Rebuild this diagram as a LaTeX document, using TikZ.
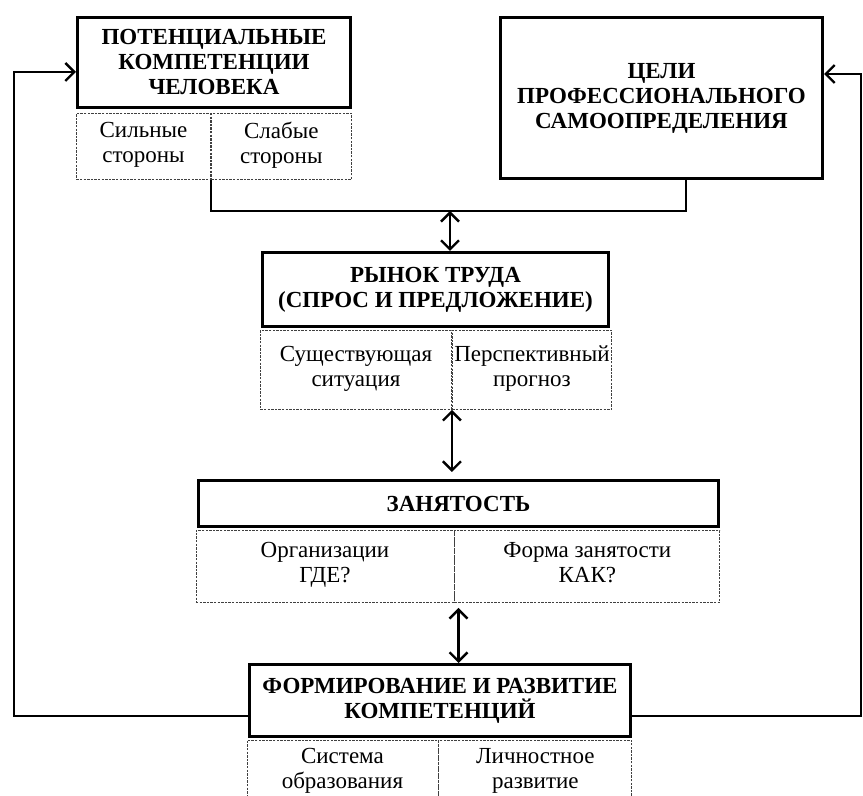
\documentclass[tikz,border=0pt]{standalone}
\usepackage{fontspec}
\setmainfont{Liberation Serif}
\usetikzlibrary{positioning,arrows.meta}
\tikzset{
main_box/.style={rectangle, draw, line width=1.5pt, align=center, inner sep=1pt, font=\bfseries\fontsize{11.5}{12.5}\selectfont},
sub_cell/.style={rectangle, draw=black!75, dash pattern=on 1.2pt off 0.6pt, line width=0.45pt, align=center, inner sep=1pt, font=\fontsize{11.5}{12.5}\selectfont, execute at begin node=\strut, execute at end node=\strut},
link/.style={line width=1.2pt},
one_way/.style={-{Straight Barb[length=4.5pt,width=9pt]}},
two_way/.style={{Straight Barb[length=4.5pt,width=9pt]}-{Straight Barb[length=4.5pt,width=9pt]}}
}

\begin{document}
\begin{tikzpicture}[x=0.5pt, y=-0.5pt]
    \useasboundingbox (0,0) rectangle (863,796);
    \clip (0,0) rectangle (863,796);

    % top row
    \node[main_box, minimum width=136.5pt, minimum height=45pt] (potential) at (214,62.5) {ПОТЕНЦИАЛЬНЫЕ\\КОМПЕТЕНЦИИ\\ЧЕЛОВЕКА};
    \node[sub_cell, minimum width=67pt, minimum height=33pt] (strong) [below right=2pt and 0pt of potential.south west] {Сильные\\стороны};
    \node[sub_cell, minimum width=70pt, minimum height=33pt] (weak) [right=0 of strong] {Слабые\\стороны};
    \node[main_box, minimum width=161pt, minimum height=80.5pt] (goals) at (661.5,98) {ЦЕЛИ\\ПРОФЕССИОНАЛЬНОГО\\САМООПРЕДЕЛЕНИЯ};

    % labour market
    \node[main_box, minimum width=173pt, minimum height=37pt] (market) at (435.5,289.5) {РЫНОК ТРУДА\\(СПРОС И ПРЕДЛОЖЕНИЕ)};
    \node[sub_cell, minimum width=95.5pt, minimum height=39.5pt] (now) [below right=1pt and -0.5pt of market.south west] {Существующая\\ситуация};
    \node[sub_cell, minimum width=79pt, minimum height=39.5pt] (outlook) [right=0 of now] {Перспективный\\прогноз};

    % employment
    \node[main_box, minimum width=260pt, minimum height=23pt] (jobs) at (458.5,503.5) {ЗАНЯТОСТЬ};
    \node[sub_cell, minimum width=129pt, minimum height=36pt] (place) [below right=1pt and -0.75pt of jobs.south west] {Организации\\ГДЕ?};
    \node[sub_cell, minimum width=132.5pt, minimum height=36pt] (form) [right=0 of place] {Форма занятости\\КАК?};

    % competences
    \node[main_box, minimum width=190.5pt, minimum height=36pt] (skills) at (440,700.5) {ФОРМИРОВАНИЕ И РАЗВИТИЕ\\КОМПЕТЕНЦИЙ};
    \node[sub_cell, minimum width=95.5pt, minimum height=32pt] (school) [below right=1pt and -0.75pt of skills.south west] {Система\\образования};
    \node[sub_cell, minimum width=96.5pt, minimum height=32pt] (self) [right=0 of school] {Личностное\\развитие};

    % connectors
    \coordinate (merge) at (450,211);
    \coordinate (loop_left) at (14,72);
    \coordinate (loop_right) at (861,74);
    \draw[link] (strong.south east) |- (merge) -| ([xshift=12.25pt]goals.south);
    \draw[link, two_way] (merge) -- (merge |- market.north);
    \draw[link, two_way, shorten >=3.5pt] (now.south east) -- (now.south east |- jobs.north);
    \draw[link, two_way, shorten <=2.5pt] (jobs.center |- place.south) -- (jobs.center |- skills.north);
    \draw[link, one_way] ([yshift=-7.75pt]skills.west) -| (loop_left) -- (potential.west |- loop_left);
    \draw[link, one_way] ([yshift=-7.75pt]skills.east) -| (loop_right) -- (goals.east |- loop_right);
\end{tikzpicture}
\end{document}
